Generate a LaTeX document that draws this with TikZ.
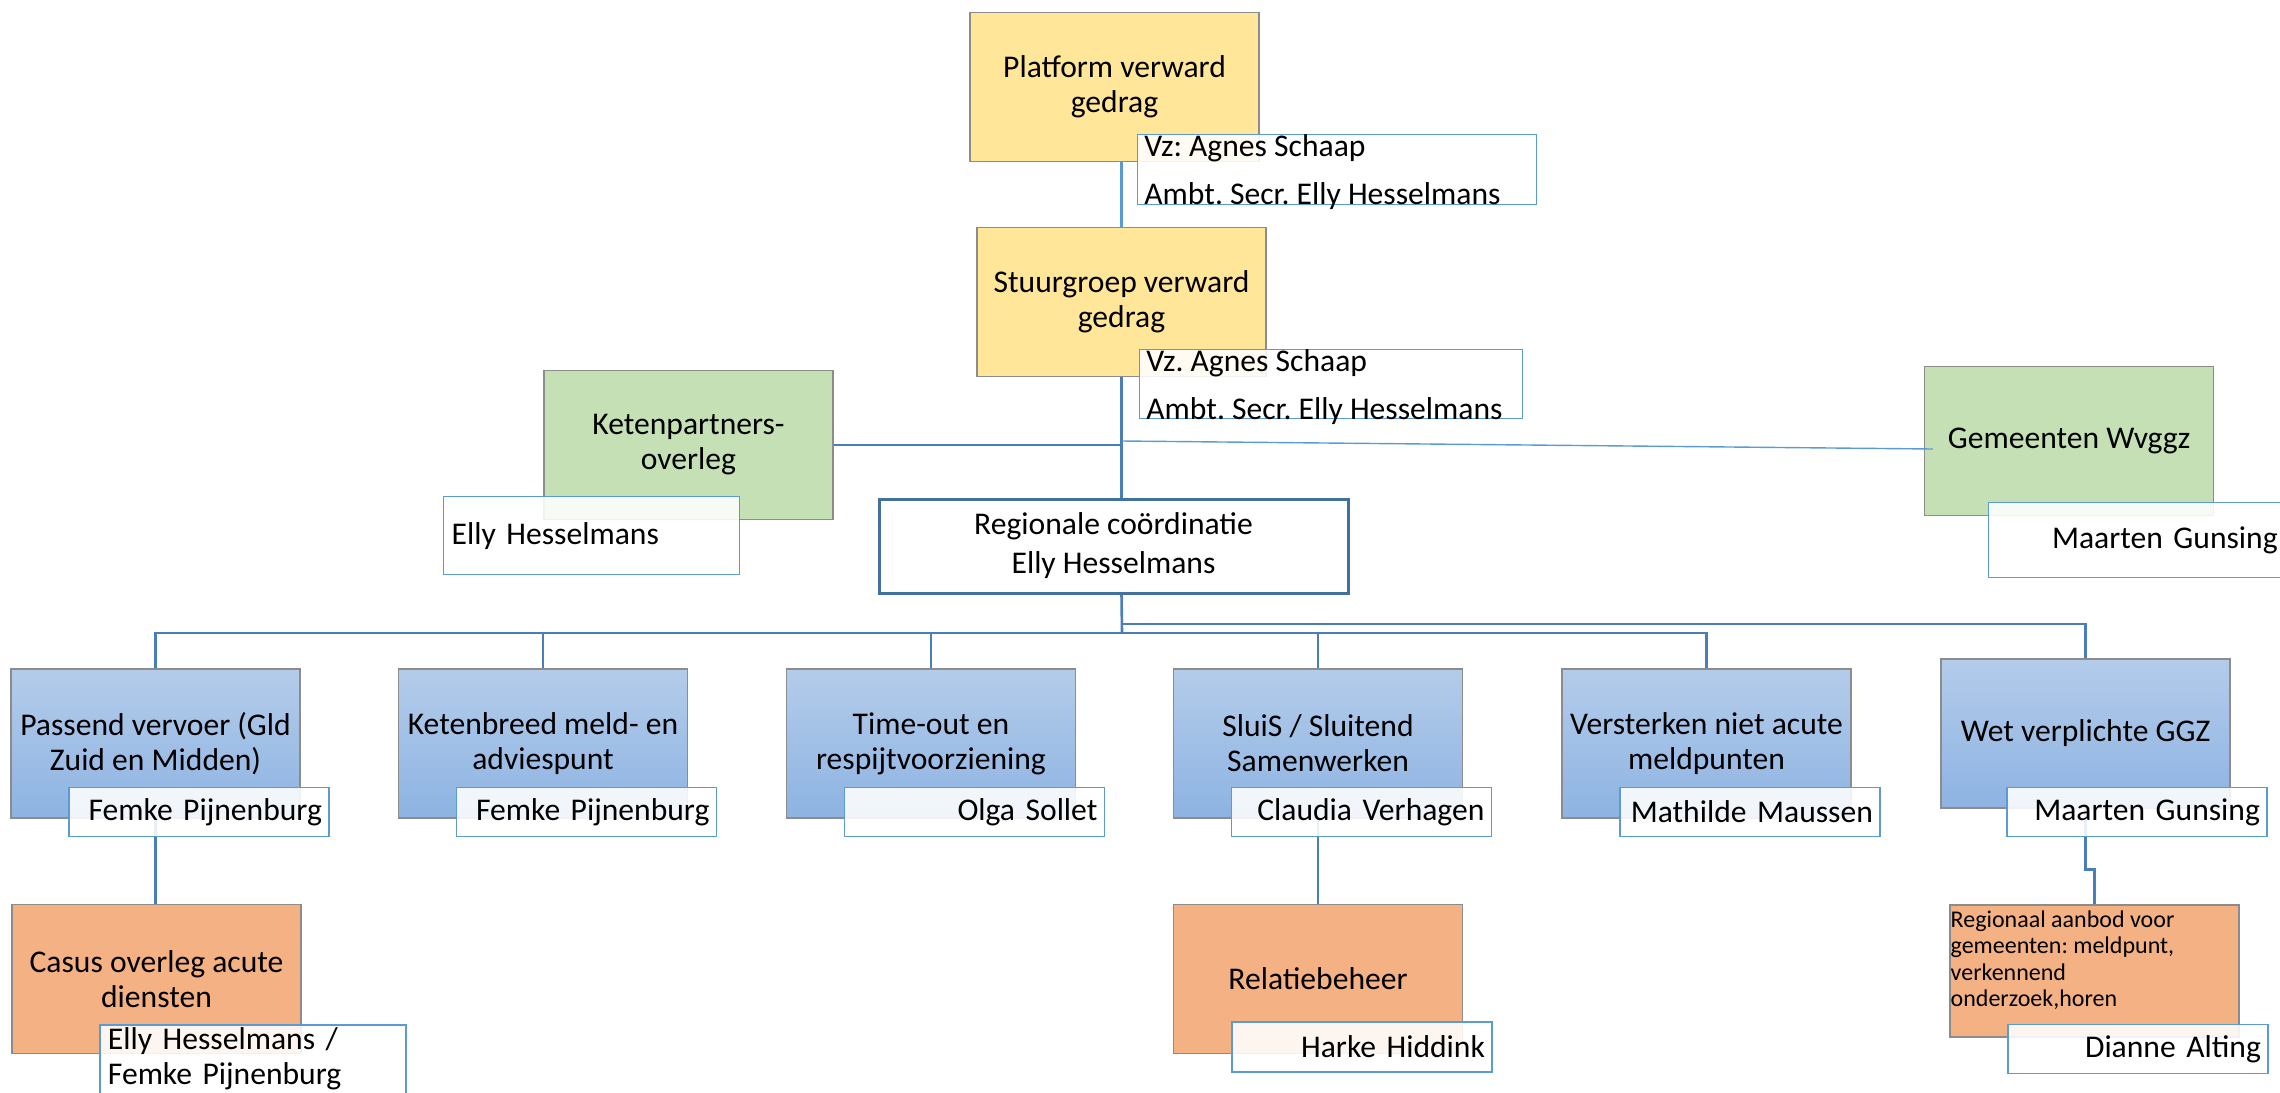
\documentclass[tikz,border=0pt]{standalone}
\usepackage{fontspec}
\setmainfont{Carlito}
\usepackage{tikz}
\usetikzlibrary{positioning, calc}

\definecolor{boxyellow}{HTML}{FFE699}
\definecolor{boxgreen}{HTML}{C5E0B4}
\definecolor{boxorange}{HTML}{F4B183}
\definecolor{bluetop}{HTML}{B4CCEA}
\definecolor{bluebottom}{HTML}{8DB3E2}
\definecolor{edgegray}{HTML}{8C8C8C}
\definecolor{namecol}{HTML}{5B9BD5}
\definecolor{linecol}{HTML}{4A7EBB}
\definecolor{regiocol}{HTML}{41719C}

\frenchspacing

\begin{document}
\begin{tikzpicture}[
    x=0.5pt, y=-0.5pt,
    box/.style={rectangle, draw=edgegray, line width=0.75pt, minimum width=144.5pt,
                minimum height=74.5pt, align=center, inner sep=2pt,
                font=\fontsize{15.8}{17.5}\selectfont},
    yellowbox/.style={box, fill=boxyellow},
    greenbox/.style={box, fill=boxgreen},
    bluebox/.style={box, top color=bluetop, bottom color=bluebottom},
    orangebox/.style={box, fill=boxorange},
    regiobox/.style={rectangle, draw=regiocol, line width=1.5pt, fill=white,
                minimum width=234.5pt, minimum height=47pt, align=center,
                font=\fontsize{15.8}{19.5}\selectfont},
    namebox/.style={rectangle, draw=namecol, line width=0.7pt, fill=white,
                fill opacity=0.88, text opacity=1, anchor=north west,
                minimum width=130pt, minimum height=24.5pt, text width=123pt,
                inner xsep=3.5pt, inner ysep=0pt, align=right,
                font=\fontsize{15.8}{17.5}\selectfont},
    conn/.style={draw=linecol, line width=1.3pt},
    thinconn/.style={draw=namecol, line width=0.7pt}
]
    \useasboundingbox (0,0) rectangle (2280,1092);

    % Top
    \node[yellowbox] (platform) at (1114.5, 87) {Platform verward\\gedrag};
    \node[yellowbox] (stuur) at (1121.5, 302) {Stuurgroep verward\\gedrag};

    % Side
    \node[greenbox] (keten) at (688.5, 445) {Ketenpartners-\\overleg};
    \node[greenbox] (gemeenten) at (2069, 441) {Gemeenten Wvggz};

    % Coordination
    \node[regiobox] (regio) at (1113.5, 546) {Regionale coördinatie\\Elly Hesselmans};

    % Work streams
    \node[bluebox] (passend) at (155.5, 743.5) {Passend vervoer (Gld\\Zuid en Midden)};
    \node[bluebox] (ketenbreed) at (543, 743.5) {Ketenbreed meld- en\\adviespunt};
    \node[bluebox] (timeout) at (931, 743.5) {Time-out en\\respijtvoorziening};
    \node[bluebox] (sluis) at (1318, 743.5) {SluiS / Sluitend\\Samenwerken};
    \node[bluebox] (versterken) at (1706.5, 743.5) {Versterken niet acute\\meldpunten};
    \node[bluebox] (wet) at (2085.5, 733.5) {Wet verplichte GGZ};

    % Sub streams
    \node[orangebox] (casus) at (156.5, 979) {Casus overleg acute\\diensten};
    \node[orangebox] (relatie) at (1318, 979) {Relatiebeheer};
    \node[orangebox, minimum height=66pt] (aanbod) at (2094.5, 971) {};
    \node[anchor=north west, align=left, inner xsep=0.5pt, inner ysep=3pt,
          font=\fontsize{12}{13.2}\selectfont] (aanbodtxt) at (aanbod.north west)
          {Regionaal aanbod voor\\gemeenten: meldpunt,\\verkennend\\onderzoek,horen};

    % Connectors
    \coordinate (trunk) at (stuur.south |- regio.south);
    \coordinate (busleft) at (1122, 633);
    \coordinate (busright) at (1122, 624);
    \draw[conn, draw=namecol, line width=1.5pt] (platform.south -| stuur.north) -- (stuur.north);
    \draw[conn] (stuur.south) -- (regio.north -| stuur.south);
    \draw[conn] (keten.east) -- (keten.east -| stuur.south);
    \draw[thinconn] (gemeenten.west -| stuur.south) -- ([xshift=4.5pt, yshift=-4pt]gemeenten.west);
    \draw[conn] (trunk) -- (busleft);
    \foreach \c in {passend, ketenbreed, timeout, sluis, versterken}
        \draw[conn] (busleft) -| (\c.north);
    \draw[conn] (busright) -| (wet.north);
    \draw[conn] (passend.south) -- (casus.north -| passend.south);
    \draw[conn] (sluis.south) -- (relatie.north);
    \draw[conn] (wet.south) -- ++(0, 61) -| (aanbod.north);

    % Names
    \node[namebox, minimum width=199.5pt, minimum height=35pt] (platformwho) at (1137, 134) {};
    \node[anchor=north west, align=left, inner xsep=3.5pt, inner ysep=0pt,
          font=\fontsize{15.8}{24}\selectfont] (platformtxt) at (platformwho.north west)
          {Vz: Agnes Schaap\\Ambt. Secr. Elly Hesselmans};
    \node[namebox, minimum width=191.5pt, minimum height=34.5pt] (stuurwho) at (1139, 349) {};
    \node[anchor=north west, align=left, inner xsep=3.5pt, inner ysep=0pt,
          font=\fontsize{15.8}{24}\selectfont] (stuurtxt) at (stuurwho.north west)
          {Vz. Agnes Schaap\\Ambt. Secr. Elly Hesselmans};
    \node[namebox, text width=140pt, inner xsep=4pt, minimum height=39pt, align=left]
          (ketenwho) at (443, 496) {Elly Hesselmans};
    \node[namebox, text width=141pt, minimum height=37.5pt] (gemeentenwho) at (1988, 502) {Maarten Gunsing};

    \node[namebox] (passendwho) at ([xshift=29pt, yshift=16pt]passend.south west) {Femke Pijnenburg};
    \node[namebox] (ketenbreedwho) at ([xshift=29pt, yshift=16pt]ketenbreed.south west) {Femke Pijnenburg};
    \node[namebox] (timeoutwho) at ([xshift=29pt, yshift=16pt]timeout.south west) {Olga Sollet};
    \node[namebox] (sluiswho) at ([xshift=29pt, yshift=16pt]sluis.south west) {Claudia Verhagen};
    \node[namebox] (versterkenwho) at ([xshift=29pt, yshift=16pt]versterken.south west) {Mathilde Maussen};
    \node[namebox] (wetwho) at ([xshift=33pt, yshift=11pt]wet.south west) {Maarten Gunsing};

    \node[namebox, text width=145pt, inner xsep=4pt, inner ysep=1.5pt, align=left]
          (casuswho) at ([xshift=44pt, yshift=15pt]casus.south west) {Elly Hesselmans /\\Femke Pijnenburg};
    \node[namebox, minimum height=25pt] (relatiewho) at ([xshift=29.25pt, yshift=16.5pt]relatie.south west) {Harke Hiddink};
    \node[namebox] (aanbodwho) at ([xshift=29pt, yshift=7pt]aanbod.south west) {Dianne Alting};

\end{tikzpicture}
\end{document}
